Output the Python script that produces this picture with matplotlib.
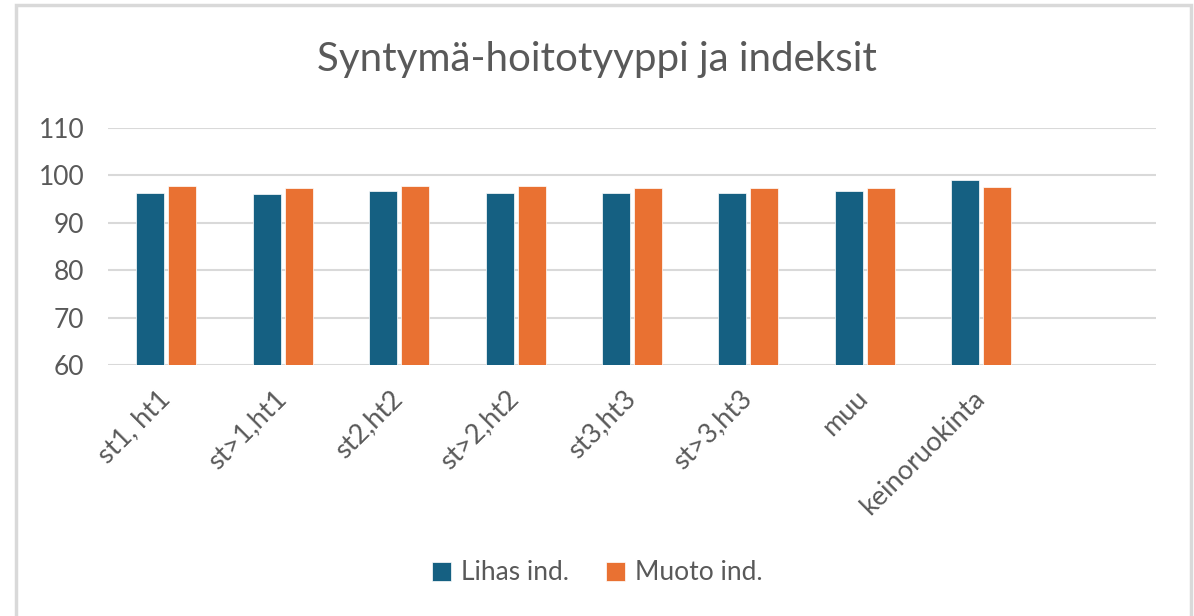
import matplotlib.pyplot as plt
from matplotlib.patches import Rectangle
import numpy as np

categories = ["st1, ht1", "st>1,ht1", "st2,ht2", "st>2,ht2", "st3,ht3",
              "st>3,ht3", "muu", "keinoruokinta"]
lihas = [96.3, 96.0, 96.7, 96.3, 96.3, 96.3, 96.7, 99.0]
muoto = [97.7, 97.3, 97.7, 97.7, 97.3, 97.3, 97.3, 97.6]

blue = "#156082"
orange = "#E97132"
grid = "#D9D9D9"
text = "#595959"

plt.rcParams["font.family"] = ["Lato", "DejaVu Sans"]

fig = plt.figure(figsize=(11.94, 6.16), dpi=100)
ax = fig.add_axes([108 / 1194, 1 - 365 / 616, 1048 / 1194, 237 / 616])

x = np.arange(len(categories)) + 0.5
w = 0.24
gap = 0.035
ax.bar(x - (w + gap) / 2, lihas, w, color=blue, label="Lihas ind.",
       edgecolor="white", linewidth=0.5, zorder=3)
ax.bar(x + (w + gap) / 2, muoto, w, color=orange, label="Muoto ind.",
       edgecolor="white", linewidth=0.5, zorder=3)

ax.set_xlim(0, 9)
ax.set_ylim(60, 110)
ax.set_yticks(range(60, 111, 10))
ax.yaxis.grid(True, color=grid, linewidth=1.5, zorder=0)
for s in ax.spines.values():
    s.set_visible(False)
ax.tick_params(axis="y", length=0, pad=17, labelsize=19, labelcolor=text)
ax.tick_params(axis="x", length=0, pad=15, labelsize=19.5, labelcolor=text)
ax.set_xticks(x - 0.08)
ax.set_xticklabels(categories, rotation=45, ha="right", rotation_mode="anchor")

fig.text(0.5, 1 - 60 / 616, "Syntymä-hoitotyyppi ja indeksit", ha="center",
         va="center", fontsize=29, color=text)

leg = fig.legend(loc="center", bbox_to_anchor=(0.5, 1 - 573 / 616), ncol=2,
                 frameon=False, fontsize=19, handlelength=0.75, handleheight=0.75,
                 handletextpad=0.35, columnspacing=1.4)
for t in leg.get_texts():
    t.set_color(text)

fig.patches.append(Rectangle((16 / 1194, -0.01), 1175 / 1194, 1 - 5 / 616 + 0.01,
                             transform=fig.transFigure, fill=False,
                             edgecolor=grid, linewidth=2.5))

fig.savefig("out.png", dpi=100)
